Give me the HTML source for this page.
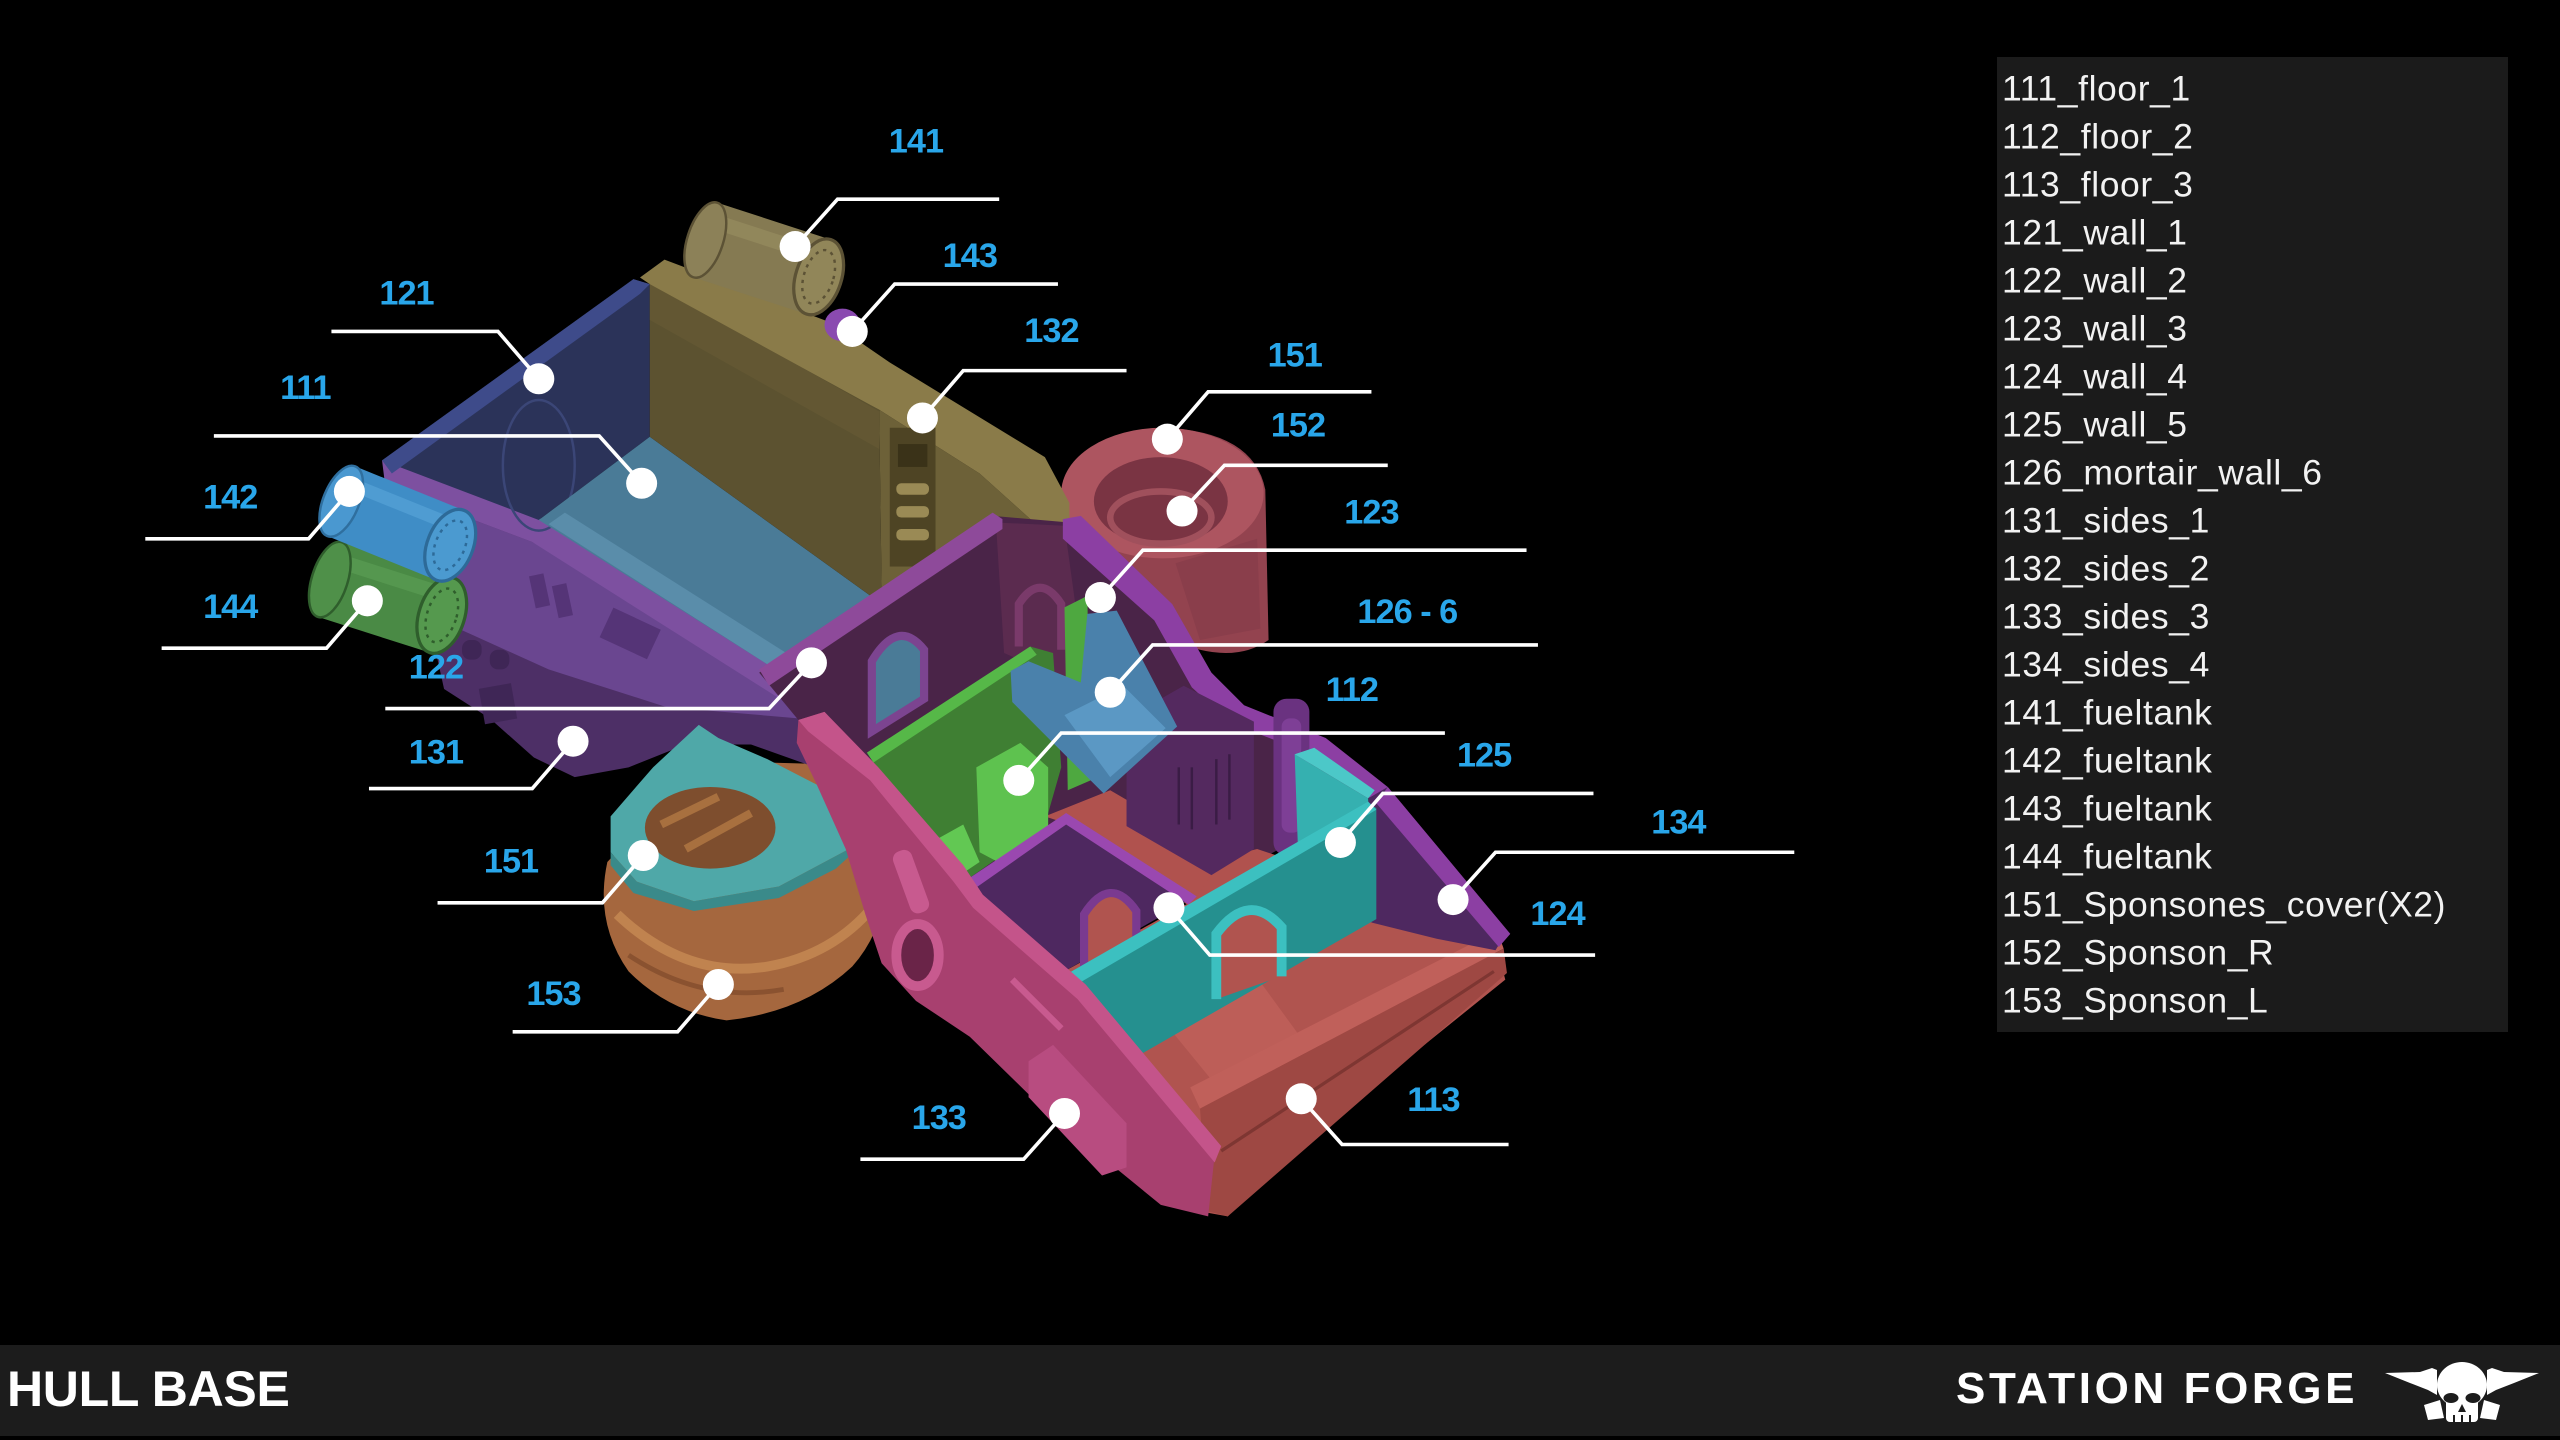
<!DOCTYPE html>
<html>
<head>
<meta charset="utf-8">
<style>
html,body{margin:0;padding:0;background:#000;}
svg{display:block;}
</style>
</head>
<body>
<svg width="2560" height="1440" viewBox="0 0 2560 1440" xmlns="http://www.w3.org/2000/svg">
<rect x="0" y="0" width="2560" height="1440" fill="#000"/>

<g transform="scale(1.632653)">
  <!-- Right sponson 152 -->
  <path d="M650,300 Q660,266 712,262 Q768,264 775,300 L777,392 Q760,404 735,398 L700,388 L650,340 Z" fill="#93434f"/>
  <ellipse cx="712" cy="302" rx="62" ry="40" fill="#ad5560"/>
  <ellipse cx="711" cy="307" rx="41" ry="27" fill="#7a3443"/>
  <ellipse cx="711" cy="317" rx="31" ry="16" fill="none" stroke="#a0505c" stroke-width="4"/>
  <path d="M720,345 L770,330 L772,385 L735,392 Z" fill="#8a3e4b"/>

  <!-- Left sponson body 153 -->
  <path d="M372,528 Q364,565 385,595 Q410,620 445,625 Q492,620 522,592 Q546,565 544,520 L505,468 L430,466 Z" fill="#a5673e"/>
  <path d="M378,560 Q420,600 470,592 Q510,585 535,555" fill="none" stroke="#c0834f" stroke-width="6"/>
  <path d="M385,585 Q430,615 480,606" fill="none" stroke="#8a5230" stroke-width="3"/>

  <!-- Left purple side 122 / 131 -->
  <polygon points="236,284 330,318 478,412 498,418 535,440 548,470 505,472 460,456 420,456 385,470 352,476 327,464 300,440 272,422 266,395 250,340" fill="#4d2f66"/>
  <polygon points="236,298 326,332 478,412 495,432 489,440 408,433 336,410 283,386 262,350" fill="#6a4690"/>
  <polygon points="234,282 330,317 478,411 492,427 484,432 326,332 236,298" fill="#7d50a0"/>
  <g fill="#553477">
    <rect x="326" y="352" width="9" height="20" transform="rotate(-12 330 362)"/>
    <rect x="340" y="358" width="9" height="20" transform="rotate(-12 344 368)"/>
    <rect x="370" y="378" width="32" height="20" transform="rotate(25 386 388)"/>
  </g>
  <g fill="#3f2656">
    <rect x="283" y="392" width="12" height="12" rx="5"/>
    <rect x="300" y="398" width="12" height="12" rx="5"/>
    <rect x="295" y="420" width="20" height="22" transform="rotate(-10 305 431)"/>
  </g>

  <!-- Navy wall 121 -->
  <polygon points="234,282 388,171 398,174 398,267.5 330,318.5" fill="#2b3359"/>
  <polygon points="234,282 388,171 398,174 392,180 240,290" fill="#3e4b8a"/>
  <ellipse cx="330" cy="285" rx="22" ry="40" fill="none" stroke="#3b4677" stroke-width="1.5"/>

  <!-- Floor 111 -->
  <polygon points="330,318.5 398,267.5 534,365.5 478,412" fill="#4a7b97"/>
  <polygon points="336,321 346,314 488,404 478,412" fill="#5a8daa"/>

  <!-- Khaki 132 -->
  <polygon points="398,170 538.5,251 540,362 534,365.5 398,267.5" fill="#5c5230"/>
  <polygon points="398,172 538.5,252 538.5,275 398,196" fill="#675c36" opacity="0.6"/>
  <polygon points="538.5,251 600,290 640,326 609,317 540,362" fill="#6d6138"/>
  <polygon points="392,170 407,159 510,198 545,222 640,280 655,308 655,328 640,326 600,290 538.5,251 398,174" fill="#8a7b49"/>
  <rect x="545" y="262" width="28" height="85" fill="#4e4424"/>
  <g fill="#9a8a55">
    <rect x="549" y="296" width="20" height="7" rx="3"/>
    <rect x="549" y="310" width="20" height="7" rx="3"/>
    <rect x="549" y="324" width="20" height="7" rx="3"/>
    <rect x="550" y="272" width="18" height="14" fill="#3a3218"/>
  </g>

  <!-- Interior base dark plum -->
  <polygon points="465,412 608,316 655,320 712,375 734,416 756,437 808,457 845,486 838,489 650,596 598,552 588,535 538,474 489,441" fill="#4a2448"/>
  <polygon points="610,320 652,322 660,380 660,420 615,400" fill="#5b2b4f"/>
  <path d="M624,396 L624,370 Q637,350 650,370 L650,398" fill="none" stroke="#7a3a6a" stroke-width="5"/>
  <path d="M534,448 L534,405 Q550,378 566,398 L566,428 Z" fill="#4a7b97" stroke="#7c4490" stroke-width="5"/>
  <polygon points="465,410 608,314 614,318 614,324 471,420" fill="#8e4a9a"/>

  <!-- Purple right side rim -->
  <polygon points="651,318 662,316 718,370 742,412 762,432 812,452 850,482 925,572 918,580 843,492 806,463 754,443 730,421 707,380 651,330" fill="#8c3fa3"/>

  <!-- Salmon floor middle -->
  <polygon points="640,500 680,484 750,525 770,520 800,530 805,542 730,556 655,505" fill="#b0524e"/>
  <polygon points="728,556 742,536 768,521 800,533 810,520 820,525 760,560 733,562" fill="#b0524e"/>

  <!-- Green panel 112 -->
  <polygon points="531,461 631,396 645,400 650,470 640,505 612,525 592,539 560,505" fill="#3f7f33"/>
  <polygon points="531,461 631,396 635,401 535,467" fill="#56b848"/>
  <polygon points="598,470 625,455 642,470 642,510 615,530 600,522" fill="#5ec24f"/>
  <polygon points="572,515 590,505 600,528 585,538" fill="#62c853"/>
  <polygon points="652,372 666,365 668,478 654,484" fill="#4ea840"/>

  <!-- Purple vent box -->
  <polygon points="690,440 725,420 768,442 768,520 742,536 690,506" fill="#54295f"/>
  <g stroke="#3a1c45" stroke-width="1.5">
    <line x1="722" y1="470" x2="722" y2="505"/>
    <line x1="730" y1="470" x2="730" y2="508"/>
    <line x1="745" y1="465" x2="745" y2="505"/>
    <line x1="753" y1="462" x2="753" y2="502"/>
  </g>
  <rect x="780" y="428" width="22" height="96" rx="8" fill="#6a3280"/>
  <rect x="785" y="440" width="12" height="70" rx="5" fill="#7e3f96"/>

  <!-- Blue mortar wall 126 -->
  <polygon points="619,411 630,405 662,418 666,376 684,374 721,445 676,486 640,450 620,430" fill="#4a81ab"/>
  <polygon points="652,438 688,420 714,446 680,476" fill="#5b98c4"/>

  <!-- Salmon front box floor 113 -->
  <polygon points="650,596 843,490 870,560 918,585 922,600 860,650 790,705 752,745 735,742 700,690 660,625" fill="#b0544f"/>
  <polygon points="700,610 760,585 800,640 745,665" fill="#bd5e58"/>
  <polygon points="775,650 800,635 830,655 805,672" fill="#9a4440"/>
  <!-- front frame -->
  <polygon points="729,666 917,570 921,581 735,679" fill="#c0605a"/>
  <polygon points="735,679 921,581 923,596 752,745 740,742" fill="#9e4843"/>
  <line x1="748" y1="705" x2="915" y2="595" stroke="#7e3632" stroke-width="2"/>

  <!-- Purple 134 inner face -->
  <polygon points="838,489 850,482 922,572 916,582 880,575 840,565" fill="#4e2860"/>
  <polygon points="850,482 925,572 918,580 843,492" fill="#8c3fa3"/>

  <!-- Purple 124 compartment -->
  <polygon points="592,539 653,500 730,550 720,556 650,596 600,600" fill="#4e2860"/>
  <polygon points="592,539 653,498 733,549 728,554 653,505 596,545" fill="#9a48b0"/>
  <path d="M664,598 L664,560 Q680,535 696,558 L696,588 Z" fill="#b0544f" stroke="#7a3a90" stroke-width="5"/>

  <!-- Teal 125 -->
  <polygon points="793,462 838,489 840,535 820,546 795,520" fill="#35b0b0"/>
  <polygon points="793,462 805,458 842,484 838,489" fill="#4cc8c8"/>

  <!-- Teal 124 -->
  <polygon points="651,598 838,492 843,495 843,563 700,645 668,612" fill="#25908f"/>
  <polygon points="651,598 838,491 843,496 656,605" fill="#3cc0c0"/>
  <path d="M745,612 L745,572 Q765,545 785,568 L785,598" fill="#b0544f" stroke="#3cc0c0" stroke-width="6"/>

  <!-- Teal 151 cover (left) -->
  <polygon points="374,500 400,470 428,444 440,452 470,465 538,500 520,520 477,543 425,552 390,540 374,522" fill="#4fa8a8"/>
  <polygon points="374,522 390,540 425,552 477,543 520,520 538,500 538,508 512,532 477,550 425,558 388,547 374,530" fill="#3a8a8a"/>
  <ellipse cx="435" cy="507" rx="40" ry="25" fill="#7e4e2e"/>
  <path d="M405,505 L440,488 M420,520 L460,498" stroke="#a8703f" stroke-width="5"/>

  <!-- Pink 133 -->
  <polygon points="489,441 505,436 538,474 588,535 600,552 660,607 744,707 740,745 711,738 640,680 594,635 561,613 540,590 530,560 518,520 500,480 488,455" fill="#a8406f"/>
  <polygon points="489,441 505,436 538,470 590,530 602,548 665,603 748,702 744,712 660,612 596,556 584,540 533,478 495,448" fill="#c4548a"/>
  <ellipse cx="562" cy="585" rx="13" ry="19" fill="#6a2448" stroke="#c85a8f" stroke-width="6"/>
  <rect x="552" y="520" width="12" height="40" rx="5" fill="#c85a8f" transform="rotate(-20 558 540)"/>
  <polygon points="630,650 645,640 690,688 690,715 675,720 630,672" fill="#b84c80"/>
  <line x1="620" y1="600" x2="650" y2="630" stroke="#c85a8f" stroke-width="4"/>

  <!-- Tank 143 (small purple) -->
  <ellipse cx="516" cy="199" rx="11" ry="10" fill="#8a4ab0"/>

  <!-- Tank 141 -->
  <g transform="translate(432,147) rotate(18)">
    <rect x="0" y="-24" width="73" height="48" fill="#857a52"/>
    <rect x="0" y="-17" width="73" height="9" fill="#9a8f63" opacity="0.6"/>
    <ellipse cx="0" cy="0" rx="11" ry="24" fill="#8c8158" stroke="#5c5235" stroke-width="1.5"/>
    <ellipse cx="73" cy="0" rx="14" ry="24" fill="#918659" stroke="#5c5235" stroke-width="2"/>
    <ellipse cx="73" cy="0" rx="9" ry="17" fill="none" stroke="#5c5235" stroke-width="1.5" stroke-dasharray="2 3"/>
  </g>

  <!-- Tank 144 (green) -->
  <g transform="translate(202,355) rotate(17.7)">
    <rect x="0" y="-24" width="72" height="48" fill="#4a8a45"/>
    <rect x="0" y="-17" width="72" height="9" fill="#5da056" opacity="0.6"/>
    <ellipse cx="0" cy="0" rx="11" ry="24" fill="#4f9049" stroke="#2f5e2c" stroke-width="1.5"/>
    <ellipse cx="72" cy="0" rx="14" ry="24" fill="#55994e" stroke="#2f5e2c" stroke-width="2"/>
    <ellipse cx="72" cy="0" rx="9" ry="17" fill="none" stroke="#2f5e2c" stroke-width="1.5" stroke-dasharray="2 3"/>
  </g>

  <!-- Tank 142 (blue) -->
  <g transform="translate(209,307) rotate(22)">
    <rect x="0" y="-23" width="72" height="46" fill="#3f8dc6"/>
    <rect x="0" y="-16" width="72" height="8" fill="#5aa6da" opacity="0.6"/>
    <ellipse cx="0" cy="0" rx="11" ry="23" fill="#4a98d0" stroke="#2f6f9f" stroke-width="1.5"/>
    <ellipse cx="72" cy="0" rx="14" ry="23" fill="#4b9ad0" stroke="#2d6a98" stroke-width="2"/>
    <ellipse cx="72" cy="0" rx="9" ry="16" fill="none" stroke="#2d6a98" stroke-width="1.5" stroke-dasharray="2 3"/>
  </g>

  <!-- Leader lines -->
  <g fill="none" stroke="#ffffff" stroke-width="2.2" stroke-linejoin="miter">
    <polyline points="612,122 513,122 487,151"/>
    <polyline points="648,174 548,174 522,203"/>
    <polyline points="690,227 590,227 565,256"/>
    <polyline points="840,240 740,240 715,269"/>
    <polyline points="850,285 750,285 724,313"/>
    <polyline points="935,337 700,337 674,366"/>
    <polyline points="942,395 706,395 680,424"/>
    <polyline points="885,449 650,449 624,478"/>
    <polyline points="976,486 847,486 821,516"/>
    <polyline points="1099,522 916,522 890,551"/>
    <polyline points="716,556 741,585 977,585"/>
    <polyline points="797,673 822,701 924,701"/>
    <polyline points="652,682 627,710 527,710"/>
    <polyline points="440,603 415,632 314,632"/>
    <polyline points="394,524 369,553 268,553"/>
    <polyline points="351,454 326,483 226,483"/>
    <polyline points="497,406 471,434 236,434"/>
    <polyline points="225,368 200,397 99,397"/>
    <polyline points="214,301 189,330 89,330"/>
    <polyline points="393,296 367,267 131,267"/>
    <polyline points="330,232 305,203 203,203"/>
  </g>
  <g fill="#ffffff">
    <circle cx="487" cy="151" r="9.5"/>
    <circle cx="522" cy="203" r="9.5"/>
    <circle cx="565" cy="256" r="9.5"/>
    <circle cx="715" cy="269" r="9.5"/>
    <circle cx="724" cy="313" r="9.5"/>
    <circle cx="674" cy="366" r="9.5"/>
    <circle cx="680" cy="424" r="9.5"/>
    <circle cx="624" cy="478" r="9.5"/>
    <circle cx="821" cy="516" r="9.5"/>
    <circle cx="890" cy="551" r="9.5"/>
    <circle cx="716" cy="556" r="9.5"/>
    <circle cx="797" cy="673" r="9.5"/>
    <circle cx="652" cy="682" r="9.5"/>
    <circle cx="440" cy="603" r="9.5"/>
    <circle cx="394" cy="524" r="9.5"/>
    <circle cx="351" cy="454" r="9.5"/>
    <circle cx="497" cy="406" r="9.5"/>
    <circle cx="225" cy="368" r="9.5"/>
    <circle cx="214" cy="301" r="9.5"/>
    <circle cx="393" cy="296" r="9.5"/>
    <circle cx="330" cy="232" r="9.5"/>
  </g>

  <!-- Labels -->
  <g font-family="'Liberation Sans', sans-serif" font-weight="bold" font-size="21" fill="#29a6ea" text-anchor="middle" letter-spacing="-0.6">
    <text x="561" y="93.5">141</text>
    <text x="594" y="163.5">143</text>
    <text x="644" y="209.5">132</text>
    <text x="793" y="224.5">151</text>
    <text x="795" y="267.5">152</text>
    <text x="840" y="320.5">123</text>
    <text x="862" y="381.5">126 - 6</text>
    <text x="828" y="429.5">112</text>
    <text x="909" y="469.5">125</text>
    <text x="1028" y="510.5">134</text>
    <text x="954" y="566.5">124</text>
    <text x="878" y="680.5">113</text>
    <text x="575" y="691.5">133</text>
    <text x="339" y="615.5">153</text>
    <text x="313" y="534.5">151</text>
    <text x="267" y="467.5">131</text>
    <text x="267" y="415.5">122</text>
    <text x="141" y="378.5">144</text>
    <text x="141" y="311.5">142</text>
    <text x="187" y="244.5">111</text>
    <text x="249" y="186.5">121</text>
  </g>
</g>

<!-- Legend -->
<rect x="1997" y="57" width="511" height="975" fill="#1b1b1b"/>
<g font-family="'Liberation Sans', sans-serif" font-size="35.5" fill="#f2f2f2" letter-spacing="0.6">
  <text x="2002" y="100.5">111_floor_1</text>
  <text x="2002" y="148.5">112_floor_2</text>
  <text x="2002" y="196.5">113_floor_3</text>
  <text x="2002" y="244.5">121_wall_1</text>
  <text x="2002" y="292.5">122_wall_2</text>
  <text x="2002" y="340.5">123_wall_3</text>
  <text x="2002" y="388.5">124_wall_4</text>
  <text x="2002" y="436.5">125_wall_5</text>
  <text x="2002" y="484.5">126_mortair_wall_6</text>
  <text x="2002" y="532.5">131_sides_1</text>
  <text x="2002" y="580.5">132_sides_2</text>
  <text x="2002" y="628.5">133_sides_3</text>
  <text x="2002" y="676.5">134_sides_4</text>
  <text x="2002" y="724.5">141_fueltank</text>
  <text x="2002" y="772.5">142_fueltank</text>
  <text x="2002" y="820.5">143_fueltank</text>
  <text x="2002" y="868.5">144_fueltank</text>
  <text x="2002" y="916.5">151_Sponsones_cover(X2)</text>
  <text x="2002" y="964.5">152_Sponson_R</text>
  <text x="2002" y="1012.5">153_Sponson_L</text>
</g>

<!-- Bottom bar -->
<rect x="0" y="1345" width="2560" height="91" fill="#1c1c1c"/>
<text x="7" y="1406" font-family="'Liberation Sans', sans-serif" font-weight="bold" font-size="50" fill="#ffffff" letter-spacing="-0.3">HULL BASE</text>
<text x="1956" y="1403" font-family="'Liberation Sans', sans-serif" font-weight="bold" font-size="44" fill="#ffffff" letter-spacing="3.6">STATION FORGE</text>

<!-- Skull logo -->
<g fill="#ffffff">
  <polygon points="2385,1373 2420,1372 2432,1368 2437,1370 2437,1395 2428,1390 2410,1383"/>
  <polygon points="2539,1373 2504,1372 2492,1368 2487,1370 2487,1395 2496,1390 2514,1383"/>
  <ellipse cx="2462" cy="1385" rx="25" ry="23"/>
  <rect x="2446" y="1396" width="32" height="26" rx="4"/>
  <polygon points="2424,1405 2440,1400 2444,1418 2428,1420"/>
  <polygon points="2500,1405 2484,1400 2480,1418 2496,1420"/>
</g>
<g fill="#1c1c1c">
  <ellipse cx="2451" cy="1398" rx="7.5" ry="5"/>
  <ellipse cx="2473" cy="1398" rx="7.5" ry="5"/>
  <polygon points="2462,1404 2466,1412 2458,1412"/>
  <rect x="2453" y="1415" width="2" height="7"/>
  <rect x="2461" y="1415" width="2" height="7"/>
  <rect x="2469" y="1415" width="2" height="7"/>
</g>
</svg>
</body>
</html>
